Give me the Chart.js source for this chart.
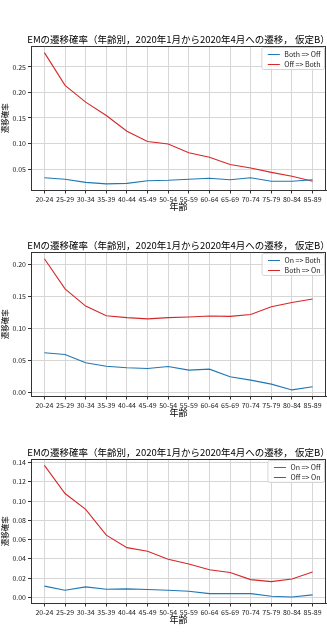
<!DOCTYPE html>
<html>
<head>
<meta charset="utf-8">
<script src="https://cdn.jsdelivr.net/npm/chart.js@4.4.0/dist/chart.umd.min.js"></script>
<style>
  body { margin: 0; background: #fff; }
  #wrap { position: relative; width: 327px; height: 637px; }
  canvas { position: absolute; left: 0; }
</style>
</head>
<body>
<div id="wrap">
  <canvas id="c1" width="327" height="212" style="top:0px"></canvas>
  <canvas id="c2" width="327" height="212" style="top:206px"></canvas>
  <canvas id="c3" width="327" height="212" style="top:413px"></canvas>
</div>
<script>
const titleText = "EMの遷移確率（年齢別，2020年1月から2020年4月への遷移， 仮定B）";
const categories = ["20-24", "25-29", "30-34", "35-39", "40-44", "45-49", "50-54",
  "55-59", "60-64", "65-69", "70-74", "75-79", "80-84", "85-89"];

// chart 1
const bothToOff = [0.033, 0.030, 0.024, 0.021, 0.022, 0.027, 0.028, 0.030, 0.032, 0.029, 0.033, 0.026, 0.026, 0.029];
const offToBoth = [0.278, 0.214, 0.181, 0.155, 0.124, 0.104, 0.099, 0.082, 0.073, 0.059, 0.052, 0.0435, 0.036, 0.026];
const yTicks1 = [0.05, 0.10, 0.15, 0.20, 0.25];

// chart 2
const onToBoth = [0.062, 0.0594, 0.0464, 0.041, 0.0386, 0.0375, 0.0406, 0.035, 0.0365, 0.0245, 0.0193, 0.013, 0.004, 0.009];
const bothToOn = [0.209, 0.162, 0.135, 0.120, 0.117, 0.115, 0.117, 0.118, 0.1196, 0.119, 0.122, 0.134, 0.1406, 0.146];
const yTicks2 = [0.00, 0.05, 0.10, 0.15, 0.20];

// chart 3
const onToOff = [0.0116, 0.0073, 0.0108, 0.0083, 0.0087, 0.008, 0.0073, 0.0063, 0.0038, 0.0038, 0.0038, 0.001, 0.0003, 0.0025];
const offToOn = [0.137, 0.1078, 0.0913, 0.0645, 0.0516, 0.0478, 0.0394, 0.0345, 0.0286, 0.0258, 0.0183, 0.0162, 0.019, 0.0263];
const yTicks3 = [0.00, 0.02, 0.04, 0.06, 0.08, 0.10, 0.12, 0.14];

const BLUE = "#1f77b4";
const RED = "#d62728";
const FONT = '"Noto Sans CJK JP", "DejaVu Sans", sans-serif';

Chart.defaults.font.family = FONT;
Chart.defaults.color = "#222";

// title centred over the plot area, like matplotlib does
const plotTitle = {
  id: "plotTitle",
  afterDraw(chart) {
    const a = chart.chartArea;
    const ctx = chart.ctx;
    ctx.save();
    ctx.font = "9.5px " + FONT;
    ctx.fillStyle = "#000";
    ctx.textAlign = "center";
    ctx.textBaseline = "middle";
    ctx.fillText(titleText, (a.left + a.right) / 2, a.top - 6.5);
    ctx.restore();
  }
};

const framePlugin = {
  id: "frame",
  afterDatasetsDraw(chart) {
    const a = chart.chartArea;
    const ctx = chart.ctx;
    ctx.save();
    ctx.strokeStyle = "#333";
    ctx.lineWidth = 1;
    ctx.strokeRect(Math.round(a.left) + 0.5, Math.round(a.top) + 0.5,
      Math.round(a.right - a.left) - 1, Math.round(a.bottom - a.top) - 1);
    ctx.restore();
  }
};

const boxLegend = {
  id: "boxLegend",
  afterDraw(chart) {
    const ctx = chart.ctx;
    const a = chart.chartArea;
    const sets = chart.data.datasets;
    ctx.save();
    ctx.font = "7px " + FONT;
    let textW = 0;
    sets.forEach(d => { textW = Math.max(textW, ctx.measureText(d.label).width); });
    const w = 6 + 12 + 4.5 + textW + 4;
    const h = 22;
    const x = a.right - 1.5 - w;
    const y = a.top + 1.5;
    ctx.fillStyle = "rgba(255,255,255,0.8)";
    ctx.strokeStyle = "#cccccc";
    ctx.lineWidth = 0.8;
    ctx.beginPath();
    ctx.roundRect(x, y, w, h, 2);
    ctx.fill();
    ctx.stroke();
    sets.forEach((d, i) => {
      const ry = y + 7 + i * 10;
      ctx.strokeStyle = d.borderColor;
      ctx.lineWidth = 1;
      ctx.beginPath();
      ctx.moveTo(x + 6, ry);
      ctx.lineTo(x + 18, ry);
      ctx.stroke();
      ctx.fillStyle = "#222";
      ctx.textBaseline = "middle";
      ctx.fillText(d.label, x + 22.5, ry);
    });
    ctx.restore();
  }
};

function makeChart(id, series, yMin, yMax, yTicks) {
  new Chart(document.getElementById(id), {
    type: "line",
    data: {
      datasets: series.map(s => ({
        label: s.label,
        data: s.values.map((v, i) => ({ x: i, y: v })),
        borderColor: s.color,
        borderWidth: 1.1,
        pointRadius: 0,
        tension: 0,
        fill: false
      }))
    },
    options: {
      responsive: false,
      animation: false,
      devicePixelRatio: 1,
      layout: { padding: { top: 46, left: 0, right: 1, bottom: 0 } },
      plugins: {
        legend: { display: false },
        tooltip: { enabled: false },
        title: { display: false }
      },
      scales: {
        x: {
          type: "linear",
          min: -0.65,
          max: 13.65,
          afterBuildTicks: scale => { scale.ticks = categories.map((c, i) => ({ value: i })); },
          afterFit: scale => { scale.height = 21.5; },
          ticks: {
            callback: v => categories[v],
            font: { size: 7 },
            color: "#222",
            maxRotation: 0,
            autoSkip: false,
            padding: 2
          },
          grid: { color: "#d6d6d6", lineWidth: 1, tickLength: 3, tickColor: "#333" },
          border: { display: true, color: "#333", width: 1 },
          title: { display: true, text: "年齢", color: "#000", font: { size: 9, lineHeight: 1.2 }, padding: 0 }
        },
        y: {
          min: yMin,
          max: yMax,
          afterBuildTicks: scale => { scale.ticks = yTicks.map(v => ({ value: v })); },
          afterFit: scale => { scale.width = 31; },
          ticks: {
            callback: v => v.toFixed(2),
            font: { size: 7 },
            color: "#222",
            padding: 2
          },
          grid: { color: "#d6d6d6", lineWidth: 1, tickLength: 3, tickColor: "#333" },
          border: { display: true, color: "#333", width: 1 },
          title: { display: true, text: "遷移確率", color: "#000", font: { size: 7.5, lineHeight: 1 }, padding: { top: 1.2, bottom: 0 } }
        }
      }
    },
    plugins: [framePlugin, boxLegend, plotTitle]
  });
}

makeChart("c1", [
  { label: "Both => Off", values: bothToOff, color: BLUE },
  { label: "Off => Both", values: offToBoth, color: RED }
], 0.008, 0.291, yTicks1);

makeChart("c2", [
  { label: "On => Both", values: onToBoth, color: BLUE },
  { label: "Both => On", values: bothToOn, color: RED }
], -0.0063, 0.2196, yTicks2);

makeChart("c3", [
  { label: "On => Off", values: onToOff, color: BLUE },
  { label: "Off => On", values: offToOn, color: RED }
], -0.0065, 0.1437, yTicks3);
</script>
</body>
</html>
